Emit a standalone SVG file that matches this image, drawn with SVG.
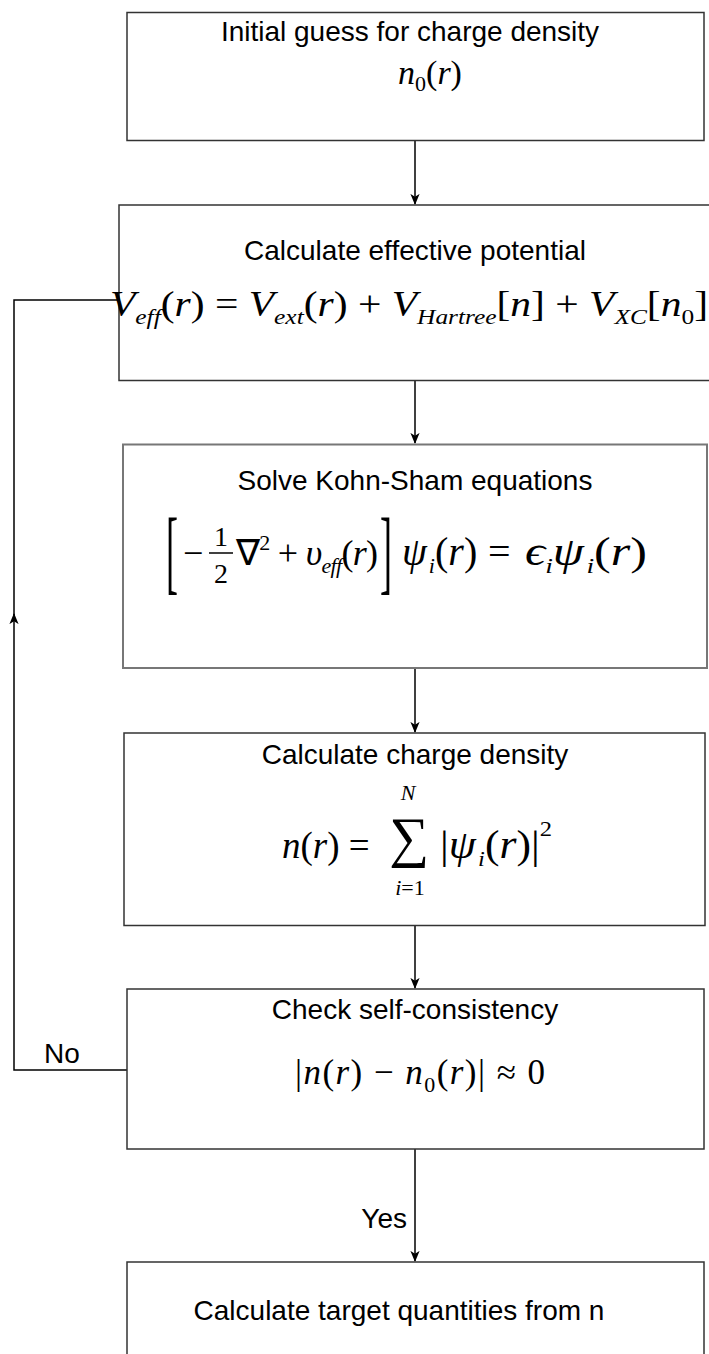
<svg xmlns="http://www.w3.org/2000/svg" width="709" height="1354" viewBox="0 0 709 1354">
<style>
.box{fill:#fff;stroke:#333;stroke-width:1.5}
.t{font-family:"Liberation Sans",Arial,Helvetica,sans-serif;font-size:28px;fill:#000}
.m{font-family:"Liberation Serif","Times New Roman",serif;font-size:34px;fill:#000}
.i{font-style:italic}
.s{font-size:22px}
.c{stroke:#000;stroke-width:1.5;fill:none}
</style>
<defs>
<marker id="ah" viewBox="0 0 12 12" refX="11" refY="6" markerWidth="11" markerHeight="11" markerUnits="userSpaceOnUse" orient="auto">
<path d="M0,1 L12,6 L0,11 L3,6 z" fill="#000"/>
</marker>
</defs>
<rect width="709" height="1354" fill="#fff"/>
<g id="connectors">
<path class="c" d="M415,140.5 V204" marker-end="url(#ah)"/>
<path class="c" d="M415,380.5 V443" marker-end="url(#ah)"/>
<path class="c" d="M415,668 V732" marker-end="url(#ah)"/>
<path class="c" d="M415,925.5 V988" marker-end="url(#ah)"/>
<path class="c" d="M415,1149 V1261" marker-end="url(#ah)"/>
<path class="c" d="M127,1070 H14 V614" marker-end="url(#ah)"/>
<path class="c" d="M14,616 V300 H119"/>
<text class="t" x="62" y="1063" text-anchor="middle">No</text>
<text class="t" x="407" y="1228" text-anchor="end">Yes</text>
</g>
<g id="n1">
<rect class="box" x="127" y="12.5" width="577" height="128"/>
<text class="t" x="410" y="41" text-anchor="middle">Initial guess for charge density</text>
<text class="m" x="430" y="84" text-anchor="middle"><tspan class="i">n</tspan><tspan class="s" dy="7">0</tspan><tspan dy="-7">(</tspan><tspan class="i">r</tspan>)</text>
</g>
<g id="n2">
<rect class="box" x="119" y="205" width="600" height="175.5"/>
<text class="t" x="415" y="260" text-anchor="middle">Calculate effective potential</text>
<text class="m" x="110" y="316" style="font-size:36px" textLength="598" lengthAdjust="spacingAndGlyphs"><tspan class="i">V</tspan><tspan class="i s" dy="8">eff</tspan><tspan dy="-8">(</tspan><tspan class="i">r</tspan>) = <tspan class="i">V</tspan><tspan class="i s" dy="8">ext</tspan><tspan dy="-8">(</tspan><tspan class="i">r</tspan>) + <tspan class="i">V</tspan><tspan class="i s" dy="8">Hartree</tspan><tspan dy="-8">[</tspan><tspan class="i">n</tspan>] + <tspan class="i">V</tspan><tspan class="i s" dy="8">XC</tspan><tspan dy="-8">[</tspan><tspan class="i">n</tspan><tspan class="s" dy="8">0</tspan><tspan dy="-8">]</tspan></text>
</g>
<g id="n3">
<rect x="123" y="444.5" width="584" height="223.5" fill="#fff" stroke="#777" stroke-width="2"/>
<text class="t" x="415" y="490" text-anchor="middle">Solve Kohn-Sham equations</text>
<text class="m" transform="translate(166,583) scale(1,2.6)" style="font-size:36px">[</text>
<text class="m" x="183" y="565" style="font-size:36px">−</text>
<text class="m" x="221" y="546" text-anchor="middle" style="font-size:28px">1</text>
<line x1="209" y1="553" x2="233" y2="553" stroke="#000" stroke-width="1.5"/>
<text class="m" x="221" y="583" text-anchor="middle" style="font-size:28px">2</text>
<text class="m" x="236" y="565" style="font-size:36px" textLength="142" lengthAdjust="spacing">∇<tspan class="s" dy="-15">2</tspan><tspan dy="15"> + </tspan><tspan class="i">υ</tspan><tspan class="i s" dy="8">eff</tspan><tspan dy="-8">(</tspan><tspan class="i">r</tspan>)</text>
<text class="m" transform="translate(380,583) scale(1,2.6)" style="font-size:36px">]</text>
<text class="m" x="402" y="565" style="font-size:40px"><tspan class="i">ψ</tspan><tspan class="i s" dx="2" dy="8">i</tspan><tspan dy="-8">(</tspan><tspan class="i">r</tspan>)</text>
<text class="m" x="488" y="565" style="font-size:40px">=</text>
<text class="m" x="525" y="565" style="font-size:40px" textLength="122" lengthAdjust="spacingAndGlyphs"><tspan class="i">ϵ</tspan><tspan class="i s" dy="8">i</tspan><tspan class="i" dy="-8">ψ</tspan><tspan class="i s" dx="2" dy="8">i</tspan><tspan dy="-8">(</tspan><tspan class="i">r</tspan>)</text>
</g>
<g id="n4">
<rect class="box" x="124" y="733" width="581" height="192.5"/>
<text class="t" x="415" y="764" text-anchor="middle">Calculate charge density</text>
<text class="m" x="282" y="858" style="font-size:37px"><tspan class="i">n</tspan>(<tspan class="i">r</tspan>) =</text>
<text class="m" x="409" y="856" text-anchor="middle" style="font-size:56px">∑</text>
<text class="m i s" x="408" y="800" text-anchor="middle">N</text>
<text class="m s" x="410" y="895" text-anchor="middle"><tspan class="i">i</tspan>=1</text>
<text class="m" x="440" y="858" style="font-size:39px" textLength="112" lengthAdjust="spacingAndGlyphs">|<tspan class="i">ψ</tspan><tspan class="i s" dx="2" dy="8">i</tspan><tspan dy="-8">(</tspan><tspan class="i">r</tspan>)|<tspan class="s" dy="-22">2</tspan></text>
</g>
<g id="n5">
<rect class="box" x="127" y="989" width="577" height="160"/>
<text class="t" x="415" y="1019" text-anchor="middle">Check self-consistency</text>
<text class="m" x="295" y="1084" style="font-size:35px" textLength="250" lengthAdjust="spacing">|<tspan class="i">n</tspan>(<tspan class="i">r</tspan>) − <tspan class="i">n</tspan><tspan class="s" dy="8">0</tspan><tspan dy="-8">(</tspan><tspan class="i">r</tspan>)| ≈ 0</text>
</g>
<g id="n6">
<rect class="box" x="127" y="1262" width="577" height="110"/>
<text class="t" x="399" y="1320" text-anchor="middle">Calculate target quantities from n</text>
</g>
</svg>
